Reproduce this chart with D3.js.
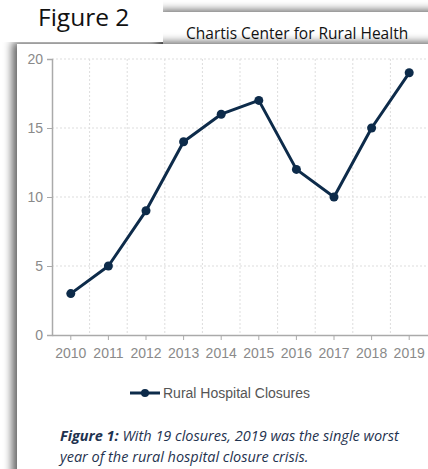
<!DOCTYPE html>
<html>
<head>
<meta charset="utf-8">
<script src="https://cdn.jsdelivr.net/npm/d3@7"></script>
<style>
  body { margin: 0; background: #fff; }
  svg { display: block; }
</style>
</head>
<body>
<div id="wrapper"></div>
<script>
const years = ["2010", "2011", "2012", "2013", "2014", "2015", "2016", "2017", "2018", "2019"]
const closures = [3, 5, 9, 14, 16, 17, 12, 10, 15, 19]
const yTicks = [0, 5, 10, 15, 20]
const seriesName = "Rural Hospital Closures"

window.addEventListener("load", paint)

function paint() {
    const width = 428, height = 469
    const navy = "#0d2b4a"
    const sans = "'Liberation Sans', Arial, sans-serif"
    const body = "'Open Sans', Lato, sans-serif"

    const svg = d3.select("#wrapper").append("svg")
        .attr("width", width).attr("height", height)

    const defs = svg.append("defs")
    const f = defs.append("filter").attr("id", "shadow")
        .attr("x", "-10%").attr("y", "-30%").attr("width", "130%").attr("height", "160%")
    f.append("feDropShadow").attr("dx", -5).attr("dy", -2)
        .attr("stdDeviation", 4).attr("flood-color", "#000").attr("flood-opacity", 0.6)

    // paper frames
    svg.append("rect").attr("x", 163).attr("y", 12).attr("width", 300).attr("height", 60)
        .attr("fill", "#fff").attr("filter", "url(#shadow)")
    svg.append("rect").attr("x", 17).attr("y", 44).attr("width", 440).attr("height", 460)
        .attr("fill", "#fff").attr("filter", "url(#shadow)")
    svg.append("rect").attr("x", 0).attr("y", 0).attr("width", 163).attr("height", 42)
        .attr("fill", "#fff")

    svg.append("text").attr("x", 38).attr("y", 26)
        .attr("font-family", body).attr("font-size", 24.5)
        .attr("fill", "#111").text("Figure 2")
    svg.append("text").attr("x", 186).attr("y", 39)
        .attr("font-family", body).attr("font-size", 15.5)
        .attr("fill", "#111").text("Chartis Center for Rural Health")

    // chart
    const x = d3.scaleBand().domain(years).range([52, 428])
    const y = d3.scaleLinear().domain([0, 20]).range([335, 59])

    const grid = svg.append("g").attr("stroke", "#ddd").attr("stroke-dasharray", "2,2")
    grid.selectAll("line.h").data(yTicks.filter(d => d > 0)).join("line")
        .attr("x1", 52).attr("x2", 428)
        .attr("y1", d => y(d)).attr("y2", d => y(d))
    grid.selectAll("line.v").data(years.slice(1)).join("line")
        .attr("x1", d => x(d)).attr("x2", d => x(d))
        .attr("y1", y(20)).attr("y2", y(0))

    const yAxis = svg.append("g").attr("transform", "translate(52,0)")
        .call(d3.axisLeft(y).tickValues(yTicks).tickSize(5).tickPadding(4))
    const xAxis = svg.append("g").attr("transform", `translate(0,${y(0)})`)
        .call(d3.axisBottom(x).tickSize(5).tickPadding(8).tickSizeOuter(0))
    for (const ax of [yAxis, xAxis]) {
        ax.select(".domain").attr("stroke", "#aaa").attr("stroke-width", 1.5)
        ax.selectAll(".tick line").attr("stroke", "#aaa")
        ax.selectAll("text").attr("fill", "#8a8a8a")
            .attr("font-family", sans).attr("font-size", 14)
    }

    const line = d3.line().x((d, i) => x(years[i]) + x.bandwidth() / 2).y(d => y(d))
    svg.append("path").datum(closures).attr("d", line)
        .attr("fill", "none").attr("stroke", navy).attr("stroke-width", 3)
        .attr("stroke-linejoin", "round")
    svg.selectAll("circle.pt").data(closures).join("circle")
        .attr("cx", (d, i) => x(years[i]) + x.bandwidth() / 2).attr("cy", d => y(d))
        .attr("r", 4.5).attr("fill", navy)

    // legend
    const lg = svg.append("g").attr("transform", "translate(130,393)")
    lg.append("line").attr("x1", 0).attr("x2", 30).attr("stroke", navy).attr("stroke-width", 3)
    lg.append("circle").attr("cx", 15).attr("r", 4).attr("fill", navy)
    lg.append("text").attr("x", 33).attr("y", 5)
        .attr("font-family", sans).attr("font-size", 14)
        .attr("fill", "#555").text(seriesName)

    // caption
    const cap = svg.append("text").attr("x", 60).attr("y", 441)
        .attr("font-family", body).attr("font-size", 14.5)
        .attr("font-style", "italic").attr("fill", "#1f3350")
    cap.append("tspan").attr("font-weight", "bold").text("Figure 1:")
    cap.append("tspan").text(" With 19 closures, 2019 was the single worst")
    svg.append("text").attr("x", 60).attr("y", 462)
        .attr("font-family", body).attr("font-size", 14.5)
        .attr("font-style", "italic").attr("fill", "#1f3350")
        .text("year of the rural hospital closure crisis.")
}
</script>
</body>
</html>
